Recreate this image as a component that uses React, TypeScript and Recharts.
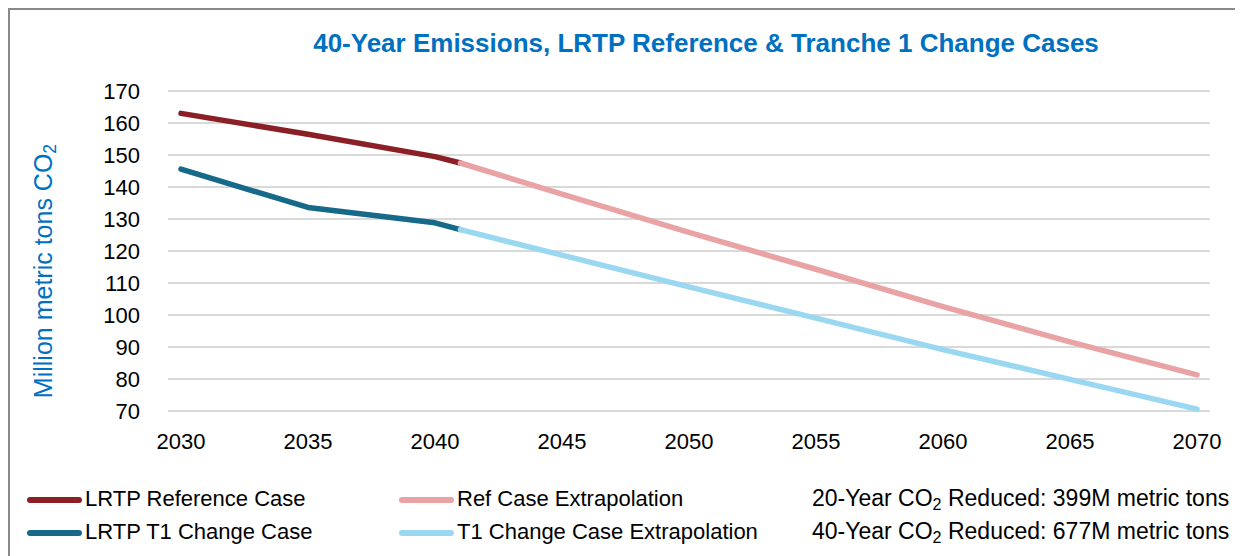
import { CartesianGrid, Line, LineChart, XAxis, YAxis } from "recharts";

const refYears = [2030, 2035, 2040, 2041];
const refValues = [163, 156.5, 149.5, 147.5];
const t1Years = [2030, 2035, 2040, 2041];
const t1Values = [145.6, 133.6, 128.8, 126.7];

const extYears = [2041, 2045, 2050, 2055, 2060, 2065, 2070];
const refExtValues = [147.5, 137.8, 125.8, 114.3, 102.6, 91.6, 81.3];
const t1ExtValues = [126.7, 118.7, 108.8, 99.0, 89.2, 79.9, 70.6];

const xTicks = [2030, 2035, 2040, 2045, 2050, 2055, 2060, 2065, 2070];
const yTicks = [70, 80, 90, 100, 110, 120, 130, 140, 150, 160, 170];

const FONT = '"Liberation Sans", Arial, sans-serif';
const BLUE = "#0070C0";

const zip = (years: number[], values: number[]) =>
  years.map((year, i) => ({ year, value: values[i] }));

const series = [
  { name: "LRTP Reference Case", color: "#8B1F26", data: zip(refYears, refValues) },
  { name: "Ref Case Extrapolation", color: "#E9A3A5", data: zip(extYears, refExtValues) },
  { name: "LRTP T1 Change Case", color: "#17698A", data: zip(t1Years, t1Values) },
  { name: "T1 Change Case Extrapolation", color: "#9AD8F2", data: zip(extYears, t1ExtValues) },
];

function Swatch({ color }: { color: string }) {
  return (
    <span
      style={{
        display: "inline-block",
        width: 55,
        height: 6,
        borderRadius: 3,
        background: color,
        marginRight: 3,
        verticalAlign: "middle",
      }}
    />
  );
}

function Co2() {
  return (
    <>
      CO
      <sub style={{ fontSize: "0.7em", verticalAlign: "-0.25em", lineHeight: 0 }}>
        2
      </sub>
    </>
  );
}

const legendCol = {
  position: "absolute" as const,
  top: 472,
  fontSize: 22,
  lineHeight: "33px",
  color: "#000",
  whiteSpace: "nowrap" as const,
};

export default function App() {
  return (
    <div
      style={{
        position: "relative",
        width: 1232,
        height: 548,
        fontFamily: FONT,
        borderTop: "2px solid #8a8a8a",
        borderLeft: "2px solid #8a8a8a",
        borderRight: "2px solid #8a8a8a",
        boxSizing: "border-box",
        overflow: "hidden",
      }}
    >
      <div
        style={{
          position: "absolute",
          left: 0,
          top: 18,
          width: 1392,
          textAlign: "center",
          color: BLUE,
          fontWeight: "bold",
          fontSize: 26,
        }}
      >
        40-Year Emissions, LRTP Reference &amp; Tranche 1 Change Cases
      </div>

      <div
        style={{
          position: "absolute",
          left: 43 - 10 - 150,
          top: 271 - 10 - 16,
          width: 300,
          textAlign: "center",
          transform: "rotate(-90deg)",
          transformOrigin: "50% 50%",
          color: BLUE,
          fontSize: 25,
          lineHeight: "32px",
          whiteSpace: "nowrap",
        }}
      >
        Million metric tons <Co2 />
      </div>

      <div style={{ position: "absolute", left: -2, top: -2 }}>
        <LineChart
          width={1232}
          height={460}
          margin={{ top: 83, right: 30, bottom: 27, left: 0 }}
        >
          <CartesianGrid vertical={false} stroke="#d9d9d9" strokeWidth={2} />
          <XAxis
            dataKey="year"
            type="number"
            domain={[2030, 2070]}
            ticks={xTicks}
            allowDuplicatedCategory={false}
            padding={{ left: 13, right: 13 }}
            axisLine={false}
            tickLine={false}
            tickSize={0}
            tickMargin={22}
            height={30}
            tick={{ fill: "#000", fontSize: 22, fontFamily: FONT }}
          />
          <YAxis
            type="number"
            domain={[70, 170]}
            ticks={yTicks}
            axisLine={false}
            tickLine={false}
            tickSize={0}
            tickMargin={28}
            width={160}
            tick={{ fill: "#000", fontSize: 22, fontFamily: FONT }}
          />
          {series.map((s) => (
            <Line
              key={s.name}
              data={s.data}
              dataKey="value"
              name={s.name}
              type="linear"
              stroke={s.color}
              strokeWidth={5.5}
              strokeLinecap="round"
              strokeLinejoin="round"
              dot={false}
              activeDot={false}
              isAnimationActive={false}
            />
          ))}
        </LineChart>
      </div>

      <div style={{ ...legendCol, left: 17 }}>
        <div>
          <Swatch color={series[0].color} />
          {series[0].name}
        </div>
        <div>
          <Swatch color={series[2].color} />
          {series[2].name}
        </div>
      </div>
      <div style={{ ...legendCol, left: 389 }}>
        <div>
          <Swatch color={series[1].color} />
          {series[1].name}
        </div>
        <div>
          <Swatch color={series[3].color} />
          {series[3].name}
        </div>
      </div>
      <div style={{ ...legendCol, left: 802, fontSize: 23 }}>
        <div>
          20-Year <Co2 /> Reduced: 399M metric tons
        </div>
        <div>
          40-Year <Co2 /> Reduced: 677M metric tons
        </div>
      </div>
    </div>
  );
}
